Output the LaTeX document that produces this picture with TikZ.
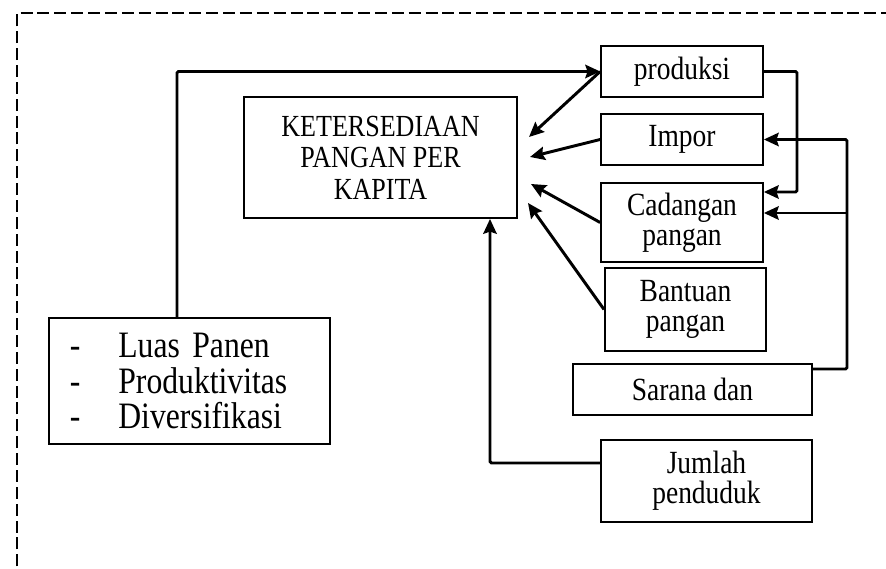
\documentclass[tikz,border=0pt]{standalone}
\usepackage{fontspec}
\setmainfont[FakeStretch=0.85]{Liberation Serif}
\usetikzlibrary{arrows.meta}

\begin{document}
\begin{tikzpicture}[
    x=0.025cm, y=-0.025cm,
    box/.style={draw, line width=1.2pt, minimum width=4.05cm, minimum height=1.28cm, align=center, inner sep=0pt, font=\fontsize{23}{21.5}\selectfont},
    link/.style={line width=2.1pt, rounded corners=1pt},
    arrow/.style={link, -{Stealth[length=10.5pt, width=9.5pt, inset=1.5pt]}},
]
\useasboundingbox (0,0) rectangle (886,569);

% Frame
\draw[line width=2pt, dash pattern=on 8.5pt off 3.5pt] (17,600) |- (900,13);

% Main box
\node[box, minimum width=6.83cm, minimum height=3.03cm, font=\fontsize{21.8}{22.5}\selectfont] (kapita) at (380.5,157.5) {KETERSEDIAAN\\PANGAN PER\\KAPITA};

% Factor boxes
\node[box] (produksi) at (682,71.5) {produksi};
\node[box] (impor) at (682,139.5) {Impor};
\node[box, minimum height=1.98cm] (cadangan) at (682,222.5) {Cadangan\\pangan};
\node[box, minimum width=4.03cm, minimum height=2.08cm] (bantuan) at (685.5,309.5) {Bantuan\\pangan};
\node[box, minimum width=5.98cm] (sarana) at (692.5,389.5) {Sarana dan};
\node[box, minimum width=5.28cm, minimum height=2.05cm] (jumlah) at (706.5,481) {Jumlah\\penduduk};

% List box
\node[box, minimum width=0cm, text width=5.98cm, inner xsep=0.52cm, minimum height=3.15cm, align=left, font=\fontsize{26.5}{25.5}\selectfont] (luas) at (189.5,381)
    {-\hspace{27pt}Luas Panen\\-\hspace{27pt}Produktivitas\\-\hspace{27pt}Diversifikasi};

% Bends and arrow ends
\coordinate (l1) at (177,72);
\coordinate (k1) at (529,137);
\coordinate (k2) at (530,157);
\coordinate (k3) at (531,184);
\coordinate (k4) at (528,203);
\coordinate (p1) at (797,192);
\coordinate (s1) at (847,369);
\coordinate (s2) at (847,213);
\coordinate (j1) at (490,463);

% Arrows
\draw[arrow] (luas.north -| l1) |- (produksi.west);
\draw[arrow] (produksi.west) -- (k1);
\draw[arrow] (impor.west) -- (k2);
\draw[arrow] (cadangan.west) -- (k3);
\draw[arrow] (bantuan.west) -- (k4);
\draw[arrow] (produksi.east) -| (p1) -- (p1 -| cadangan.east);
\draw[arrow] (s1 -| sarana.east) -- (s1) |- (impor.east);
\draw[arrow] (s2) -- (s2 -| cadangan.east);
\draw[arrow] (j1 -| jumlah.west) -- (j1) -- (j1 |- kapita.south);

\end{tikzpicture}
\end{document}
